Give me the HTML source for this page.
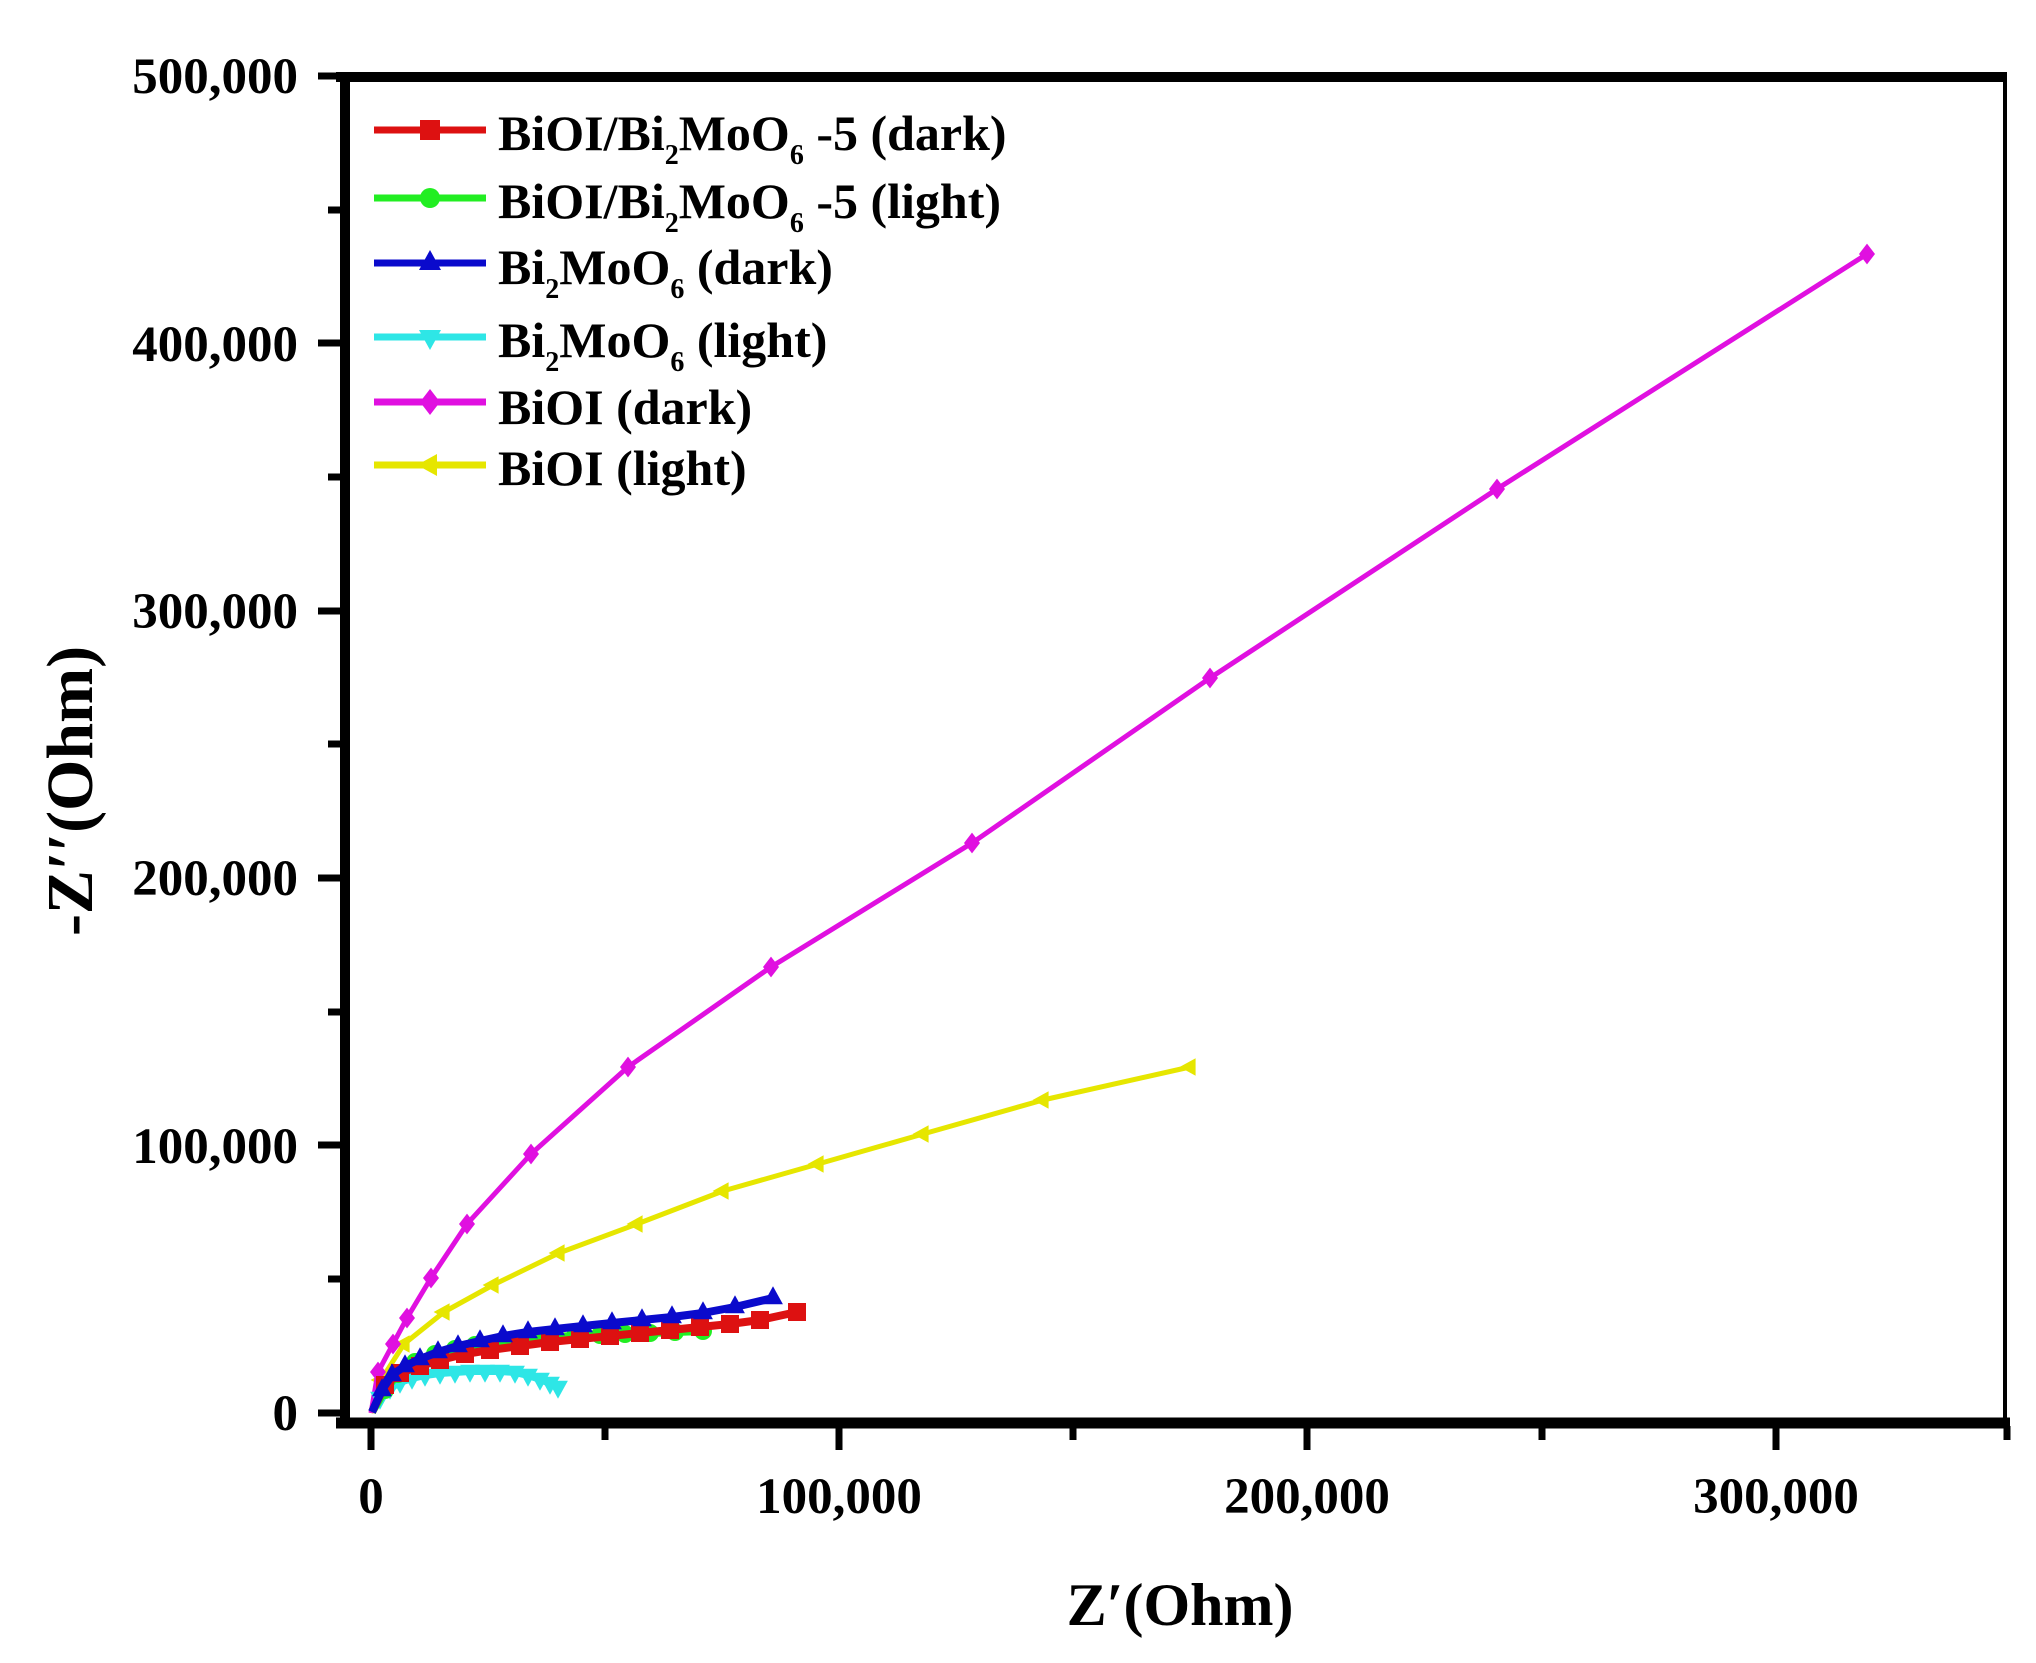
<!DOCTYPE html>
<html><head><meta charset="utf-8"><style>
html,body{margin:0;padding:0;background:#fff;}
svg{display:block;}
text{font-family:"Liberation Serif",serif;font-weight:bold;fill:#000;}
</style></head><body>
<svg id="s" width="2036" height="1663" viewBox="0 0 2036 1663" xmlns="http://www.w3.org/2000/svg">
<rect width="2036" height="1663" fill="#fff"/>
<line x1="336" y1="77" x2="2007" y2="77" stroke="#000" stroke-width="10"/>
<line x1="345" y1="72" x2="345" y2="1428" stroke="#000" stroke-width="10"/>
<line x1="336" y1="1423" x2="2010" y2="1423" stroke="#000" stroke-width="11"/>
<line x1="2005" y1="72" x2="2005" y2="1428" stroke="#000" stroke-width="4"/>
<g stroke="#000" stroke-width="7">
<line x1="318" y1="1413" x2="342" y2="1413"/>
<line x1="318" y1="1145" x2="342" y2="1145"/>
<line x1="318" y1="878" x2="342" y2="878"/>
<line x1="318" y1="611" x2="342" y2="611"/>
<line x1="318" y1="343" x2="342" y2="343"/>
<line x1="318" y1="76" x2="342" y2="76"/>
<line x1="328" y1="1279" x2="342" y2="1279"/>
<line x1="328" y1="1012" x2="342" y2="1012"/>
<line x1="328" y1="744" x2="342" y2="744"/>
<line x1="328" y1="477" x2="342" y2="477"/>
<line x1="328" y1="210" x2="342" y2="210"/>
<line x1="371" y1="1426" x2="371" y2="1450"/>
<line x1="839" y1="1426" x2="839" y2="1450"/>
<line x1="1307" y1="1426" x2="1307" y2="1450"/>
<line x1="1776" y1="1426" x2="1776" y2="1450"/>
<line x1="605" y1="1426" x2="605" y2="1440"/>
<line x1="1073" y1="1426" x2="1073" y2="1440"/>
<line x1="1542" y1="1426" x2="1542" y2="1440"/>
<line x1="2007" y1="1426" x2="2007" y2="1440"/>
</g>
<g font-size="51" text-anchor="end">
<text x="298" y="93">500,000</text>
<text x="298" y="361">400,000</text>
<text x="298" y="628">300,000</text>
<text x="298" y="895">200,000</text>
<text x="298" y="1163">100,000</text>
<text x="298" y="1430">0</text>
</g>
<g font-size="51" text-anchor="middle">
<text x="371" y="1513">0</text>
<text x="839" y="1513">100,000</text>
<text x="1307" y="1513">200,000</text>
<text x="1776" y="1513">300,000</text>
</g>
<text x="1180" y="1625" font-size="60" text-anchor="middle">Z′(Ohm)</text>
<text transform="translate(92,791) rotate(-90)" font-size="66" text-anchor="middle">-Z′′(Ohm)</text>
<g id="data" fill="none" stroke-linejoin="round"></g>
<g id="leg"></g>
<g font-size="50">
<text x="498" y="150">BiOI/Bi<tspan font-size="28" dy="14">2</tspan><tspan dy="-14">MoO</tspan><tspan font-size="28" dy="14">6</tspan><tspan dy="-14"> -5 (dark)</tspan></text>
<text x="498" y="218">BiOI/Bi<tspan font-size="28" dy="14">2</tspan><tspan dy="-14">MoO</tspan><tspan font-size="28" dy="14">6</tspan><tspan dy="-14"> -5 (light)</tspan></text>
<text x="498" y="284">Bi<tspan font-size="28" dy="14">2</tspan><tspan dy="-14">MoO</tspan><tspan font-size="28" dy="14">6</tspan><tspan dy="-14"> (dark)</tspan></text>
<text x="498" y="357">Bi<tspan font-size="28" dy="14">2</tspan><tspan dy="-14">MoO</tspan><tspan font-size="28" dy="14">6</tspan><tspan dy="-14"> (light)</tspan></text>
<text x="498" y="424">BiOI (dark)</text>
<text x="498" y="485">BiOI (light)</text>
</g>
</svg>
<script>
var NS="http://www.w3.org/2000/svg";
var series=[
{c:"#e6e600",m:"left",w:5,r:8,p:[[371,1413],[381,1380],[404,1344],[444,1312],[493,1285],[559,1253],[637,1224],[723,1191],[818,1164],[923,1134],[1043,1100],[1190,1067]]},
{c:"#e010e0",m:"diamond",w:5,r:8,p:[[371,1413],[378,1372],[393,1344],[407,1318],[431,1278],[467,1224],[531,1154],[628,1067],[771,967],[972,843],[1210,678],[1497,489],[1867,254]]},
{c:"#2ee6e6",m:"down",w:8,r:9,p:[[372,1412],[380,1398],[390,1388],[400,1382],[412,1378],[425,1375],[440,1373],[455,1372],[470,1371],[485,1371],[500,1371],[515,1372],[528,1375],[540,1379],[550,1383],[558,1387]]},
{c:"#22ee22",m:"circle",w:8,r:9,p:[[372,1412],[385,1390],[398,1374],[415,1362],[435,1354],[455,1349],[475,1345],[500,1342],[525,1339],[550,1337],[575,1336],[600,1335],[625,1334],[650,1333],[675,1332],[703,1331]]},
{c:"#dd1111",m:"square",w:8,r:9,p:[[372,1412],[385,1385],[400,1373],[420,1366],[440,1360],[465,1354],[490,1350],[520,1346],[550,1342],[580,1339],[610,1336],[640,1333],[670,1330],[700,1327],[730,1324],[760,1320],[797,1312]]},
{c:"#0a0acc",m:"up",w:8,r:9,p:[[372,1412],[382,1390],[392,1375],[405,1366],[420,1359],[438,1352],[458,1346],[480,1341],[503,1336],[528,1332],[555,1329],[583,1326],[612,1323],[642,1320],[672,1317],[703,1313],[735,1307],[773,1298]]}
];
function mk(g,t,c,x,y,r){var e;
 if(t=="circle"){e=document.createElementNS(NS,"circle");e.setAttribute("cx",x);e.setAttribute("cy",y);e.setAttribute("r",r);}
 else if(t=="square"){e=document.createElementNS(NS,"rect");e.setAttribute("x",x-r);e.setAttribute("y",y-r);e.setAttribute("width",2*r);e.setAttribute("height",2*r);}
 else{var pts;
  if(t=="diamond")pts=[[x,y-r*1.3],[x+r,y],[x,y+r*1.3],[x-r,y]];
  if(t=="up")pts=[[x,y-r*1.3],[x+r*1.1,y+r*0.7],[x-r*1.1,y+r*0.7]];
  if(t=="down")pts=[[x,y+r*1.3],[x+r*1.1,y-r*0.7],[x-r*1.1,y-r*0.7]];
  if(t=="left")pts=[[x-r*1.3,y],[x+r*0.7,y-r*1.1],[x+r*0.7,y+r*1.1]];
  e=document.createElementNS(NS,"polygon");e.setAttribute("points",pts.map(function(a){return a.join(",")}).join(" "));}
 e.setAttribute("fill",c);e.setAttribute("stroke","none");g.appendChild(e);}
var d=document.getElementById("data");
series.forEach(function(s){
 var pl=document.createElementNS(NS,"polyline");
 pl.setAttribute("points",s.p.map(function(a){return a.join(",")}).join(" "));
 pl.setAttribute("stroke",s.c);pl.setAttribute("stroke-width",s.w);d.appendChild(pl);
 s.p.forEach(function(a,i){if(i>0)mk(d,s.m,s.c,a[0],a[1],s.r);});
});
var leg=document.getElementById("leg");
var L=[["#dd1111","square",130],["#22ee22","circle",198],["#0a0acc","up",263],["#2ee6e6","down",337],["#e010e0","diamond",402],["#e6e600","left",465]];
L.forEach(function(l){var ln=document.createElementNS(NS,"line");
 ln.setAttribute("x1",374);ln.setAttribute("x2",486);ln.setAttribute("y1",l[2]);ln.setAttribute("y2",l[2]);
 ln.setAttribute("stroke",l[0]);ln.setAttribute("stroke-width",7);leg.appendChild(ln);
 mk(leg,l[1],l[0],430,l[2],10);});
</script>
</body></html>
